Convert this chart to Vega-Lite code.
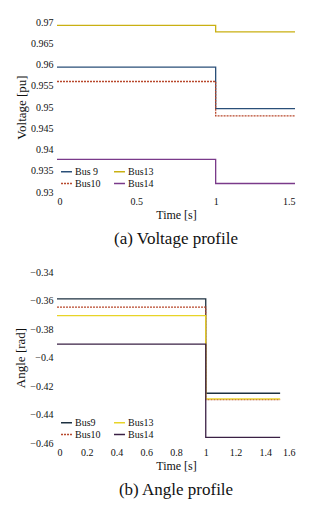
{
  "$schema": "https://vega.github.io/schema/vega-lite/v6.json",
  "padding": {"top": 17, "left": 14, "right": 5, "bottom": 5},
  "background": "white",
  "config": {
    "font": "Liberation Serif",
    "view": {"stroke": null},
    "axis": {"domain": false, "ticks": false, "grid": false, "labelFont": "Liberation Serif", "titleFont": "Liberation Serif", "labelFontSize": 10, "titleFontSize": 13, "titleFontWeight": "normal", "labelColor": "#111", "titleColor": "#111", "labelPadding": 4, "titlePadding": 2},
    "axisX": {"titleFontSize": 12, "titlePadding": 3},
    "legend": {"labelFont": "Liberation Serif", "labelFontSize": 10, "labelColor": "#111", "symbolType": "stroke", "symbolSize": 120, "symbolStrokeWidth": 1.3, "columns": 2, "orient": "bottom-left", "offset": 3, "rowPadding": 0, "columnPadding": 10, "labelOffset": 2, "padding": 0},
    "title": {"font": "Liberation Serif", "fontSize": 17, "fontWeight": "normal", "color": "#111", "orient": "bottom", "offset": 11}
  },
  "datasets": {
    "voltage": [
      {"t": 0, "v": 0.9594, "bus": "Bus 9"},
      {"t": 1, "v": 0.9496, "bus": "Bus 9"},
      {"t": 1.5, "v": 0.9496, "bus": "Bus 9"},
      {"t": 0, "v": 0.956, "bus": "Bus10"},
      {"t": 1, "v": 0.9479, "bus": "Bus10"},
      {"t": 1.5, "v": 0.9479, "bus": "Bus10"},
      {"t": 0, "v": 0.9692, "bus": "Bus13"},
      {"t": 1, "v": 0.9677, "bus": "Bus13"},
      {"t": 1.5, "v": 0.9677, "bus": "Bus13"},
      {"t": 0, "v": 0.9377, "bus": "Bus14"},
      {"t": 1, "v": 0.932, "bus": "Bus14"},
      {"t": 1.5, "v": 0.932, "bus": "Bus14"}
    ],
    "angle": [
      {"t": 0, "a": -0.3588, "bus": "Bus9"},
      {"t": 1, "a": -0.4251, "bus": "Bus9"},
      {"t": 1.5, "a": -0.4251, "bus": "Bus9"},
      {"t": 0, "a": -0.3647, "bus": "Bus10"},
      {"t": 1, "a": -0.4296, "bus": "Bus10"},
      {"t": 1.5, "a": -0.4296, "bus": "Bus10"},
      {"t": 0, "a": -0.3706, "bus": "Bus13"},
      {"t": 1, "a": -0.4290, "bus": "Bus13"},
      {"t": 1.5, "a": -0.4290, "bus": "Bus13"},
      {"t": 0, "a": -0.3906, "bus": "Bus14"},
      {"t": 1, "a": -0.456, "bus": "Bus14"},
      {"t": 1.5, "a": -0.456, "bus": "Bus14"}
    ]
  },
  "vconcat": [
    {
      "width": 238,
      "height": 170,
      "title": "(a) Voltage profile",
      "data": {"name": "voltage"},
      "mark": {"type": "line", "interpolate": "step-after", "strokeWidth": 1.3},
      "encoding": {
        "x": {"field": "t", "type": "quantitative", "title": "Time [s]", "scale": {"domain": [0, 1.5], "nice": false}, "axis": {"values": [0, 0.5, 1, 1.5], "format": "~g"}},
        "y": {"field": "v", "type": "quantitative", "title": "Voltage [pu]", "scale": {"domain": [0.93, 0.97], "nice": false, "zero": false}, "axis": {"values": [0.93, 0.935, 0.94, 0.945, 0.95, 0.955, 0.96, 0.965, 0.97], "format": "~g"}},
        "color": {"field": "bus", "type": "nominal", "title": null, "scale": {"domain": ["Bus 9", "Bus10", "Bus13", "Bus14"], "range": ["#2a4f78", "#b8482c", "#c9b012", "#7a3a8a"]}},
        "strokeDash": {"field": "bus", "type": "nominal", "title": null, "scale": {"domain": ["Bus 9", "Bus10", "Bus13", "Bus14"], "range": [[1, 0], [2, 1], [1, 0], [1, 0]]}}
      }
    },
    {
      "width": 238,
      "height": 171,
      "title": "(b) Angle profile",
      "data": {"name": "angle"},
      "mark": {"type": "line", "interpolate": "step-after", "strokeWidth": 1.3},
      "encoding": {
        "x": {"field": "t", "type": "quantitative", "title": "Time [s]", "scale": {"domain": [0, 1.6], "nice": false}, "axis": {"values": [0, 0.2, 0.4, 0.6, 0.8, 1, 1.2, 1.4, 1.6], "format": "~g"}},
        "y": {"field": "a", "type": "quantitative", "title": "Angle [rad]", "scale": {"domain": [-0.46, -0.34], "nice": false, "zero": false}, "axis": {"values": [-0.46, -0.44, -0.42, -0.4, -0.38, -0.36, -0.34], "format": "~g"}},
        "color": {"field": "bus", "type": "nominal", "title": null, "scale": {"domain": ["Bus9", "Bus10", "Bus13", "Bus14"], "range": ["#1c3040", "#b8482c", "#e8d428", "#3a2044"]}},
        "strokeDash": {"field": "bus", "type": "nominal", "title": null, "scale": {"domain": ["Bus9", "Bus10", "Bus13", "Bus14"], "range": [[1, 0], [2, 1], [1, 0], [1, 0]]}}
      }
    }
  ],
  "resolve": {"scale": {"color": "independent", "strokeDash": "independent"}},
  "spacing": 20
}
